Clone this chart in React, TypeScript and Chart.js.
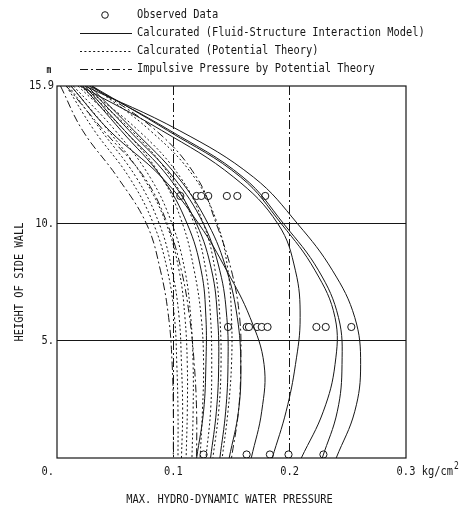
import React, { useEffect, useRef } from 'react';
import { Chart, registerables } from 'chart.js';

Chart.register(...registerables);

// Heights of side wall (m) at which each calculated profile is sampled
const heights = [15.9, 14, 12, 10, 8, 6, 4, 2, 0];

// Calculated (Fluid-Structure Interaction Model) — solid
const fsi1 = [0.024, 0.105, 0.169, 0.207, 0.237, 0.256, 0.261, 0.256, 0.240];
const fsi2 = [0.028, 0.097, 0.160, 0.195, 0.225, 0.242, 0.245, 0.241, 0.228];
const fsi3 = [0.030, 0.095, 0.158, 0.193, 0.222, 0.239, 0.239, 0.229, 0.210];
const fsi4 = [0.020, 0.090, 0.152, 0.190, 0.205, 0.209, 0.205, 0.197, 0.185];
const fsi5 = [0.012, 0.045, 0.090, 0.122, 0.146, 0.166, 0.178, 0.176, 0.167];
const fsi6 = [0.022, 0.055, 0.090, 0.112, 0.124, 0.128, 0.128, 0.126, 0.120];
const fsi7 = [0.024, 0.058, 0.096, 0.120, 0.133, 0.138, 0.139, 0.137, 0.132];
const fsi8 = [0.026, 0.062, 0.100, 0.126, 0.140, 0.146, 0.147, 0.145, 0.140];
const fsi9 = [0.028, 0.066, 0.104, 0.130, 0.146, 0.155, 0.158, 0.156, 0.148];

// Calculated (Potential Theory) — dotted
const pot1 = [0.008, 0.032, 0.062, 0.083, 0.095, 0.101, 0.103, 0.104, 0.104];
const pot2 = [0.010, 0.038, 0.068, 0.088, 0.099, 0.105, 0.107, 0.108, 0.107];
const pot3 = [0.012, 0.044, 0.074, 0.094, 0.105, 0.110, 0.112, 0.112, 0.111];
const pot4 = [0.014, 0.050, 0.080, 0.099, 0.110, 0.115, 0.117, 0.117, 0.116];
const pot5 = [0.018, 0.058, 0.090, 0.108, 0.118, 0.124, 0.126, 0.125, 0.123];
const pot6 = [0.020, 0.064, 0.098, 0.118, 0.128, 0.132, 0.133, 0.132, 0.128];
const pot7 = [0.022, 0.070, 0.106, 0.126, 0.136, 0.140, 0.141, 0.139, 0.134];
const pot8 = [0.030, 0.080, 0.118, 0.138, 0.147, 0.150, 0.150, 0.147, 0.142];

// Impulsive Pressure by Potential Theory — dash-dot
const imp1 = [0.003, 0.022, 0.052, 0.077, 0.089, 0.096, 0.099, 0.100, 0.100];
const imp2 = [0.008, 0.040, 0.075, 0.095, 0.107, 0.114, 0.118, 0.120, 0.120];
const imp3 = [0.030, 0.085, 0.120, 0.137, 0.150, 0.157, 0.158, 0.156, 0.150];

// Observed data
const obsUpperY = 11.2;
const obsUpperX = [0.106, 0.120, 0.124, 0.130, 0.146, 0.155, 0.179];
const obsMidY = 5.6;
const obsMidX = [0.147, 0.163, 0.165, 0.172, 0.176, 0.181, 0.223, 0.231, 0.253];
const obsLowY = 0.15;
const obsLowX = [0.126, 0.163, 0.183, 0.199, 0.229];

// Axis ticks and labels
const xTicks = [0, 0.1, 0.2, 0.3];
const xTickLabels = ['0.', '0.1', '0.2', '0.3'];
const yTicks = [0, 5, 10, 15.9];
const yTickLabels = ['0.', '5.', '10.', '15.9'];
const xUnit = ' kg/cm';
const yUnit = 'm';
const xTitle = 'MAX. HYDRO-DYNAMIC WATER PRESSURE';
const yTitle = 'HEIGHT OF SIDE WALL';
const legendLabels = [
  'Observed Data',
  'Calcurated (Fluid-Structure Interaction Model)',
  'Calcurated (Potential Theory)',
  'Impulsive Pressure by Potential Theory',
];

const INK = '#161616';
const FONT = '10.4px "DejaVu Sans Mono", monospace';
const STRETCH = 1.22;
const DOT = [2, 2.4];
const DASHDOT = [8, 3, 2, 3];

function txt(
  ctx: CanvasRenderingContext2D,
  s: string,
  x: number,
  y: number,
  align: CanvasTextAlign = 'left',
  rot = 0,
  font = FONT
) {
  ctx.save();
  ctx.font = font;
  ctx.fillStyle = INK;
  ctx.textAlign = align;
  ctx.textBaseline = 'middle';
  ctx.translate(x, y);
  if (rot) ctx.rotate(rot);
  ctx.scale(1, STRETCH);
  ctx.fillText(s, 0, 0);
  ctx.restore();
}

const curve = (xs: number[], dash: number[]) => ({
  data: heights.map((h, i) => ({ x: xs[i], y: h })),
  showLine: true,
  borderColor: INK,
  borderWidth: 1,
  borderDash: dash,
  pointRadius: 0,
  tension: 0.4,
  fill: false,
});

const obs = (xs: number[], y: number) => ({
  data: xs.map((x) => ({ x, y })),
  showLine: false,
  pointStyle: 'circle',
  pointRadius: 3.6,
  pointBorderWidth: 1,
  pointBorderColor: INK,
  pointBackgroundColor: '#ffffff',
  borderColor: INK,
  backgroundColor: '#ffffff',
});

const decorPlugin = {
  id: 'decor',
  afterDraw(chart: any) {
    const { ctx, chartArea: a, scales } = chart;
    const xs = scales.x;
    const ys = scales.y;
    // frame
    ctx.save();
    ctx.strokeStyle = INK;
    ctx.lineWidth = 1.2;
    ctx.setLineDash([]);
    ctx.strokeRect(a.left, a.top, a.right - a.left, a.bottom - a.top);
    ctx.restore();

    const labelRight = a.left - 3;
    const xLabelY = a.bottom + 14;
    // y tick labels (0 sits on the x label row)
    yTicks.forEach((v, i) => {
      if (v === 0) return;
      txt(ctx, yTickLabels[i], labelRight, ys.getPixelForValue(v), 'right');
    });
    // x tick labels
    xTicks.forEach((v, i) => {
      if (v === 0) {
        txt(ctx, xTickLabels[i], labelRight, xLabelY, 'right');
        return;
      }
      txt(ctx, xTickLabels[i], xs.getPixelForValue(v), xLabelY, 'center');
    });
    // unit on x
    ctx.save();
    ctx.font = FONT;
    const w03 = ctx.measureText('0.3').width;
    const wUnit = ctx.measureText(xUnit).width;
    ctx.restore();
    const ux = xs.getPixelForValue(0.3) + w03 / 2;
    txt(ctx, xUnit, ux, xLabelY, 'left');
    txt(ctx, '2', ux + wUnit + 1, xLabelY - 6, 'left', 0, '8px "DejaVu Sans Mono", monospace');
    // unit on y
    txt(ctx, yUnit, a.left - 8, a.top - 16, 'center', 0, 'bold 8px "DejaVu Sans Mono", monospace');
    // titles
    txt(ctx, xTitle, (a.left + a.right) / 2 - 2, a.bottom + 42, 'center');
    txt(ctx, yTitle, 20, 282, 'center', -Math.PI / 2);

    // legend
    const lx0 = 80;
    const lx1 = 132;
    const tx = 137;
    const rows = [15, 33, 51, 69];
    ctx.save();
    ctx.strokeStyle = INK;
    ctx.fillStyle = '#ffffff';
    ctx.lineWidth = 1;
    ctx.beginPath();
    ctx.arc(105, rows[0], 3.3, 0, Math.PI * 2);
    ctx.fill();
    ctx.stroke();
    const dashes = [[], DOT, DASHDOT];
    for (let k = 0; k < 3; k++) {
      ctx.setLineDash(dashes[k] as number[]);
      ctx.beginPath();
      ctx.moveTo(lx0, rows[k + 1] + 0.5);
      ctx.lineTo(lx1, rows[k + 1] + 0.5);
      ctx.stroke();
    }
    ctx.restore();
    legendLabels.forEach((s, i) => txt(ctx, s, tx, rows[i], 'left'));
  },
};

export default function App() {
  const ref = useRef<HTMLCanvasElement | null>(null);
  useEffect(() => {
    if (!ref.current) return;
    const datasets: any[] = [
      ...[imp1, imp2, imp3].map((s) => curve(s, DASHDOT)),
      ...[pot1, pot2, pot3, pot4, pot5, pot6, pot7, pot8].map((s) => curve(s, DOT)),
      ...[fsi1, fsi2, fsi3, fsi4, fsi5, fsi6, fsi7, fsi8, fsi9].map((s) => curve(s, [])),
      obs(obsUpperX, obsUpperY),
      obs(obsMidX, obsMidY),
      obs(obsLowX, obsLowY),
    ];
    const chart = new Chart(ref.current, {
      type: 'scatter',
      data: { datasets },
      plugins: [decorPlugin],
      options: {
        animation: false,
        responsive: false,
        maintainAspectRatio: false,
        layout: { padding: { left: 57, right: 53, top: 86, bottom: 52 } },
        plugins: { legend: { display: false }, tooltip: { enabled: false } },
        scales: {
          x: {
            type: 'linear',
            min: 0,
            max: 0.3,
            afterBuildTicks: (s: any) => {
              s.ticks = xTicks.map((v) => ({ value: v }));
            },
            afterFit: (s: any) => {
              s.height = 0;
            },
            ticks: { display: false },
            grid: {
              drawTicks: false,
              lineWidth: 1,
              color: (c: any) => (c.tick && c.tick.value > 0 && c.tick.value < 0.3 ? INK : 'rgba(0,0,0,0)'),
            },
            border: { display: false, dash: [9, 3, 2, 3] },
          },
          y: {
            type: 'linear',
            min: 0,
            max: 15.9,
            afterBuildTicks: (s: any) => {
              s.ticks = yTicks.map((v) => ({ value: v }));
            },
            afterFit: (s: any) => {
              s.width = 0;
            },
            ticks: { display: false },
            grid: {
              drawTicks: false,
              lineWidth: 1.1,
              color: (c: any) => (c.tick && c.tick.value > 0 && c.tick.value < 15.9 ? INK : 'rgba(0,0,0,0)'),
            },
            border: { display: false },
          },
        },
      } as any,
    });
    return () => chart.destroy();
  }, []);
  return (
    <div style={{ position: 'absolute', left: 0, top: 0, width: 459, height: 510, background: '#fff' }}>
      <canvas ref={ref} width={459} height={510} style={{ display: 'block' }} />
    </div>
  );
}
